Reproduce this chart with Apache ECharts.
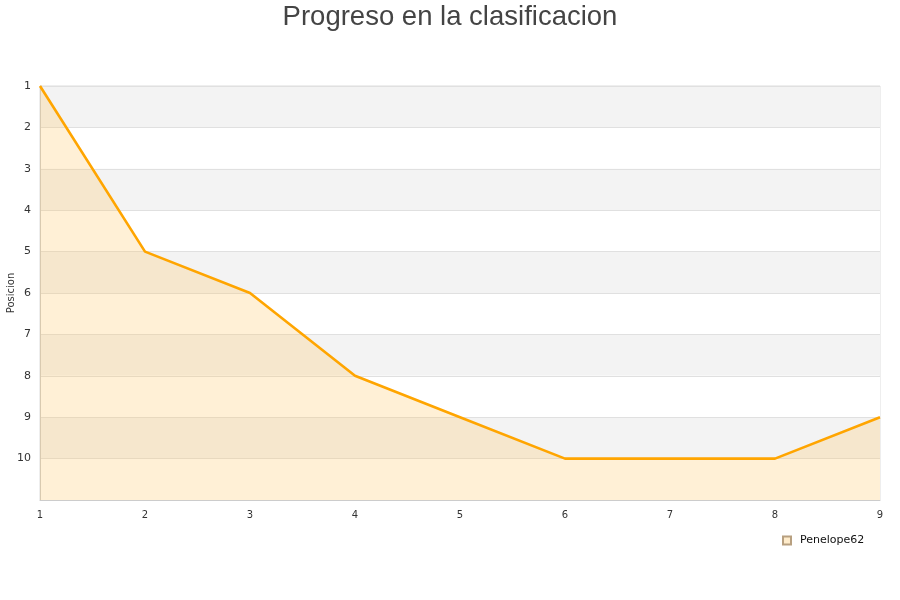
<!DOCTYPE html>
<html><head><meta charset="utf-8">
<script src="https://cdn.jsdelivr.net/npm/echarts@6/dist/echarts.min.js"></script>
<style>html,body{margin:0;padding:0;background:#fff}#c{width:900px;height:600px}</style>
</head><body><div id="c"></div>
<script>
const jornadas = [1, 2, 3, 4, 5, 6, 7, 8, 9];
const posiciones = [1, 5, 6, 8, 9, 10, 10, 10, 9];
const seriesName = 'Penelope62';
const titleText = 'Progreso en la clasificacion';
const yName = 'Posicion';

const chart = echarts.init(document.getElementById('c'));
chart.setOption({
  animation: false,
  backgroundColor: '#fff',
  title: { text: titleText, left: 'center', top: -2,
    textStyle: { fontFamily: 'Liberation Sans, Arial, sans-serif', fontSize: 27.5, fontWeight: 'normal', color: '#444' } },
  legend: { data: [seriesName], left: 777, top: 530, icon: 'rect', itemWidth: 8, itemHeight: 8, itemGap: 5,
    textStyle: { fontFamily: 'DejaVu Sans, sans-serif', fontSize: 11, color: '#111', padding: [0, 0, 0, 4] } },
  grid: { left: 40, right: 20, top: 86, bottom: 100, show: true, borderColor: '#ddd', borderWidth: 1,
    backgroundColor: 'transparent', outerBoundsMode: 'none', containLabel: false },
  xAxis: { type: 'value', min: 1, max: 9, interval: 1,
    axisLine: { show: true, lineStyle: { color: '#ccc' } },
    axisTick: { show: false }, splitLine: { show: false },
    axisLabel: { color: '#333', fontSize: 10, fontFamily: 'DejaVu Sans, sans-serif', margin: 10 } },
  yAxis: { type: 'value', inverse: true, min: 1, max: 11, interval: 1,
    name: yName, nameLocation: 'middle', nameGap: 24, nameRotate: 90, nameMoveOverlap: false,
    nameTextStyle: { color: '#333', fontSize: 10, fontFamily: 'DejaVu Sans, sans-serif' },
    axisLine: { show: true, lineStyle: { color: '#ccc' } },
    axisTick: { show: false },
    splitLine: { show: true, lineStyle: { color: '#e0e0e0' } },
    splitArea: { show: true, areaStyle: { color: ['#f3f3f3', '#ffffff'] } },
    axisLabel: { color: '#333', fontSize: 11, fontFamily: 'DejaVu Sans, sans-serif', margin: 9,
      formatter: v => (v >= 11 ? '' : String(v)) } },
  series: [{
    name: seriesName, type: 'line',
    data: jornadas.map((j, i) => [j, posiciones[i]]),
    symbol: 'none', showSymbol: false,
    lineStyle: { color: '#ffa500', width: 2.6 },
    itemStyle: { color: '#ffeccb', borderColor: '#b8a080', borderWidth: 1 },
    areaStyle: { color: 'rgba(255,200,100,0.38)', origin: 'end' }
  }]
});
</script></body></html>
